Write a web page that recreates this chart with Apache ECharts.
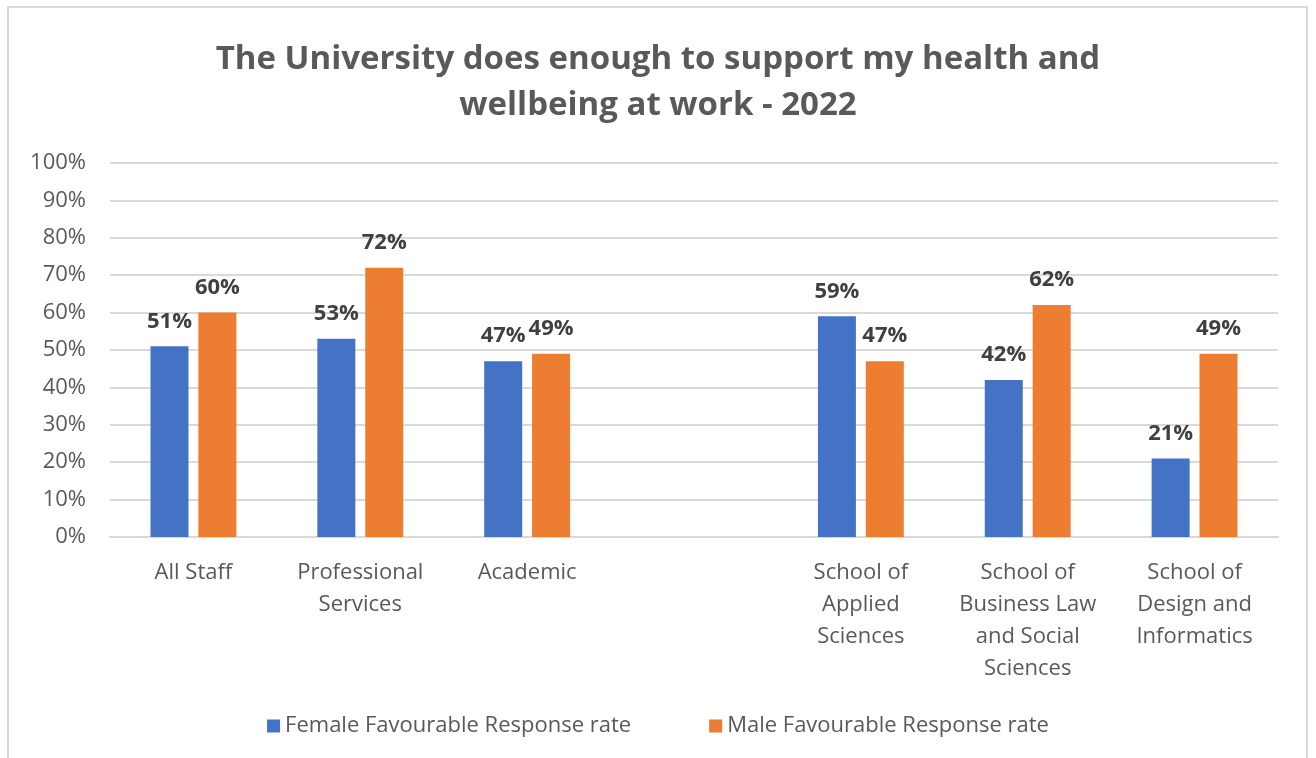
<!DOCTYPE html>
<html>
<head>
<meta charset="utf-8">
<script src="https://cdn.jsdelivr.net/npm/echarts@6/dist/echarts.min.js"></script>
<style>
  html, body { margin: 0; padding: 0; background: #fff; }
  #chart { width: 1316px; height: 758px; }
</style>
</head>
<body>
<div id="chart"></div>
<script>
// Favourable response rates by staff group and school (%)
const categories = [
  'All Staff',
  'Professional\nServices',
  'Academic',
  '',
  'School of\nApplied\nSciences',
  'School of\nBusiness Law\nand Social\nSciences',
  'School of\nDesign and\nInformatics'
];
const femaleRates = [51, 53, 47, null, 59, 42, 21];
const maleRates = [60, 72, 49, null, 47, 62, 49];
const yTicks = [0, 10, 20, 30, 40, 50, 60, 70, 80, 90, 100];

const FONT = '"Open Sans", "Noto Sans", sans-serif';
const chart = echarts.init(document.getElementById('chart'));

const labelStyle = {
  show: true,
  position: 'top',
  distance: 14,
  formatter: p => p.value + '%',
  fontFamily: FONT,
  fontSize: 22,
  fontWeight: 'bold',
  color: '#404040'
};

chart.setOption({
  backgroundColor: '#fff',
  animation: false,
  graphic: [{
    type: 'rect',
    shape: { x: 8, y: 7, width: 1299, height: 760 },
    style: { fill: 'none', stroke: '#d9d9d9', lineWidth: 2 },
    silent: true
  }],
  title: {
    text: 'The University does enough to support my health and\nwellbeing at work - 2022',
    left: 'center',
    top: 32,
    textStyle: {
      fontFamily: FONT,
      fontSize: 33,
      fontWeight: 'bold',
      color: '#595959',
      lineHeight: 46
    }
  },
  legend: {
    bottom: 16,
    left: 'center',
    itemWidth: 13,
    itemHeight: 13,
    itemGap: 78,
    icon: 'rect',
    textStyle: { fontFamily: FONT, fontSize: 22, color: '#595959' },
    data: ['Female Favourable Response rate', 'Male Favourable Response rate']
  },
  grid: { left: 110, right: 38, top: 163, bottom: 221 },
  xAxis: {
    type: 'category',
    data: categories,
    axisLine: { lineStyle: { color: '#d9d9d9', width: 2 } },
    axisTick: { show: false },
    axisLabel: {
      interval: 0,
      margin: 20,
      fontFamily: FONT,
      fontSize: 22,
      color: '#595959',
      lineHeight: 32
    }
  },
  yAxis: {
    type: 'value',
    min: yTicks[0],
    max: yTicks[yTicks.length - 1],
    interval: 10,
    axisLine: { show: false },
    axisTick: { show: false },
    axisLabel: {
      margin: 24,
      formatter: v => v + '%',
      fontFamily: FONT,
      fontSize: 22,
      color: '#595959'
    },
    splitLine: { lineStyle: { color: '#d9d9d9', width: 2 } }
  },
  series: [
    {
      name: 'Female Favourable Response rate',
      type: 'bar',
      data: femaleRates,
      barWidth: 38,
      barGap: '26%',
      itemStyle: { color: '#4472C4' },
      label: labelStyle
    },
    {
      name: 'Male Favourable Response rate',
      type: 'bar',
      data: maleRates,
      barWidth: 38,
      itemStyle: { color: '#ED7D31' },
      label: labelStyle
    }
  ]
});
</script>
</body>
</html>
